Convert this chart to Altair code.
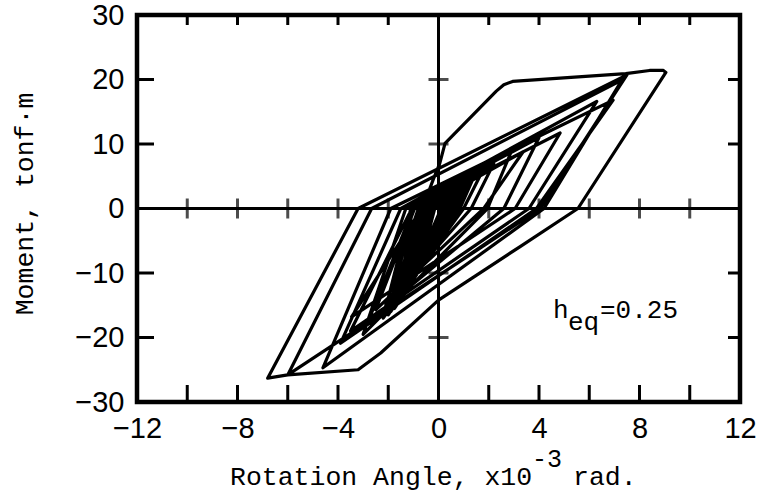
import altair as alt
import pandas as pd

# Loading history: rotation angle (x10^-3 rad) and moment (tonf·m) at each reversal / knee
early_rotation = [0.00, 0.35, 0.10, -0.55, -0.15, 0.60, 0.20, -0.90, -0.30, 0.90, 0.35, -1.20,
                  -0.45, 0.75, 0.30, -1.45, -0.55, 1.20, 0.55, -1.00, -0.35, 1.60, 0.85, -1.75,
                  -0.70, 1.00, 0.45, -1.55, -0.60, 1.40, 0.70, -2.00, -1.00, 0.80, 0.35, -1.30,
                  -0.40, 1.30, 0.50, -1.85, -0.85, 0.65, 0.15, -1.65, -0.75, 1.10, 0.40, -1.40,
                  -0.80, -0.45, -0.20, 0.05]
early_moment = [0.0, 2.6, 0.0, -6.0, 0.0, 3.8, 0.0, -9.5, 0.0, 4.8, 0.0, -12.0,
                0.0, 4.2, 0.0, -14.0, 0.0, 5.6, 0.0, -10.5, 0.0, 6.6, 0.0, -15.5,
                0.0, 5.0, 0.0, -13.0, 0.0, 6.0, 0.0, -16.5, 0.0, 4.5, 0.0, -11.0,
                1.0, 5.4, 0.0, -15.0, -1.0, 3.5, -1.5, -14.5, 0.0, 5.2, -1.0, -12.5,
                -1.5, 2.0, 4.6, 7.0]

main_rotation = [0.26, 2.30, 2.60, 2.95, 7.45, 8.40, 8.95, 9.05, 5.55, 3.25, 0.00, -2.30,
                 -3.20, -6.00, -6.80, -3.20, 7.50, 4.05, -6.00, -2.66, 7.30, 4.20, -4.60,
                 -1.90, 6.95, 3.90, -3.90, -1.50, 6.30, 3.60, -3.50, -1.06, 4.84, 3.05, -3.46,
                 -0.67, 3.37, 1.80, -2.50]
main_moment = [10.1, 18.2, 19.2, 19.7, 20.9, 21.4, 21.4, 21.1, 0.0, -5.9, -14.2, -22.4,
               -25.0, -25.8, -26.3, 0.0, 20.7, 0.0, -25.8, 0.0, 19.9, 0.0, -24.7,
               0.0, 16.8, 0.0, -20.9, 0.0, 16.6, 0.0, -19.0, 0.0, 11.7, 0.0, -16.8,
               0.0, 8.8, 0.0, -15.7]

late_rotation = [-0.95, 2.97, 1.95, -3.00, -1.30, 4.00, 2.60, -2.80, -1.00, 2.20, 1.30, -2.10,
                 -0.80, 1.50, 0.80, -1.90, -0.90, -0.60, 1.20, 0.60, -1.60, -0.60, 1.80, 1.00,
                 -2.20, -1.10, 0.90, 0.40, -1.30, -0.50, 1.10, 0.55, -1.70, -0.75, 0.70, 0.30,
                 -1.00, -0.35, 0.50, 0.20, -0.70, -0.20, 0.25, 0.00]
late_moment = [0.0, 9.5, 0.0, -19.5, 0.0, 11.0, 0.0, -17.5, 0.0, 7.0, 0.0, -15.0,
               0.0, 5.8, 0.0, -16.0, -2.0, 0.5, 5.2, 0.0, -13.5, 0.0, 6.2, 0.0,
               -17.0, 0.0, 4.6, 0.0, -12.0, 0.0, 5.0, 0.0, -14.5, 0.0, 3.8, 0.0,
               -9.0, 0.0, 3.0, 0.0, -6.5, 0.0, 1.8, 0.0]

x_label_values = [-12, -8, -4, 0, 4, 8, 12]
y_label_values = [-30, -20, -10, 0, 10, 20, 30]
x_minor_ticks = [-10, -8, -6, -4, -2, 2, 4, 6, 8, 10]
y_minor_ticks = [-20, -10, 10, 20]

rotation = early_rotation + main_rotation + late_rotation
moment = early_moment + main_moment + late_moment
path = pd.DataFrame({"rotation": rotation, "moment": moment, "step": list(range(len(rotation)))})

W, H = 603, 387
xs = alt.Scale(domain=[-12, 12], nice=False, zero=False)
ys = alt.Scale(domain=[-30, 30], nice=False, zero=False)

x_axis = alt.Axis(values=x_label_values, title=None, ticks=False, tickSize=0, domain=False,
                  grid=False, labelFont="Liberation Sans", labelFontSize=29, labelColor="black",
                  labelPadding=12, labelFlush=False, labelOverlap=False, format="d")
y_axis = alt.Axis(values=y_label_values, title=None, ticks=False, tickSize=0, domain=False,
                  grid=False, labelFont="Liberation Sans", labelFontSize=29, labelColor="black",
                  labelPadding=13, labelFlush=False, labelOverlap=False, format="d")


def X(field):
    return alt.X(field, scale=xs, axis=x_axis)


def Y(field):
    return alt.Y(field, scale=ys, axis=y_axis)


loops = alt.Chart(path).mark_line(color="black", strokeWidth=3.2, strokeJoin="round").encode(
    x=X("rotation:Q"), y=Y("moment:Q"), order="step:Q")

zero_df = pd.DataFrame({"zero": [0]})
v_zero = alt.Chart(zero_df).mark_rule(color="black", strokeWidth=3).encode(x=X("zero:Q"))
h_zero = alt.Chart(zero_df).mark_rule(color="black", strokeWidth=3).encode(y=Y("zero:Q"))

xt = pd.DataFrame({"v": x_minor_ticks, "zero": [0] * len(x_minor_ticks)})
yt = pd.DataFrame({"v": y_minor_ticks, "zero": [0] * len(y_minor_ticks)})

# crossing ticks on the zero lines
x_cross = alt.Chart(xt).mark_tick(orient="vertical", size=20, thickness=3, color="black").encode(
    x=X("v:Q"), y=Y("zero:Q"))
y_cross = alt.Chart(yt).mark_tick(orient="horizontal", size=20, thickness=3, color="black").encode(
    x=X("zero:Q"), y=Y("v:Q"))

# inward ticks on the frame
top_ticks = alt.Chart(xt).mark_rule(color="black", strokeWidth=3).encode(
    x=X("v:Q"), y=alt.value(0), y2=alt.value(10))
bottom_ticks = alt.Chart(xt).mark_rule(color="black", strokeWidth=3).encode(
    x=X("v:Q"), y=alt.value(H), y2=alt.value(H - 17))
left_ticks = alt.Chart(yt).mark_rule(color="black", strokeWidth=3).encode(
    y=Y("v:Q"), x=alt.value(0), x2=alt.value(17))
right_ticks = alt.Chart(yt).mark_rule(color="black", strokeWidth=3).encode(
    y=Y("v:Q"), x=alt.value(W), x2=alt.value(W - 12))


def label(text, x, y, size=26.5, angle=0, align="left", font="Liberation Mono"):
    return alt.Chart(pd.DataFrame({"t": [text]})).mark_text(
        font=font, fontSize=size, color="black", align=align, baseline="alphabetic", angle=angle
    ).encode(text="t:N", x=alt.value(x), y=alt.value(y))


x_title = label("Rotation Angle, x10", 93, 470)
x_title_exp = label("-3", 395, 452, size=25)
x_title_unit = label("rad.", 436, 470)
y_title = label("Moment, tonf·m", -104, 189, angle=270, align="center")
h_main = label("h", 416, 303, size=26)
h_sub = label("eq", 431, 315, size=26)
h_val = label("=0.25", 463, 303, size=26)

chart = alt.layer(
    v_zero, h_zero, x_cross, y_cross, top_ticks, bottom_ticks, left_ticks, right_ticks,
    loops, x_title, x_title_exp, x_title_unit, y_title, h_main, h_sub, h_val,
).properties(
    width=W, height=H,
    autosize=alt.AutoSizeParams(type="none"),
    padding={"left": 137, "top": 15, "right": 25, "bottom": 95},
).configure_view(stroke="black", strokeWidth=4.5)

chart.save("out.html", embed_options={"renderer": "svg", "actions": False})
